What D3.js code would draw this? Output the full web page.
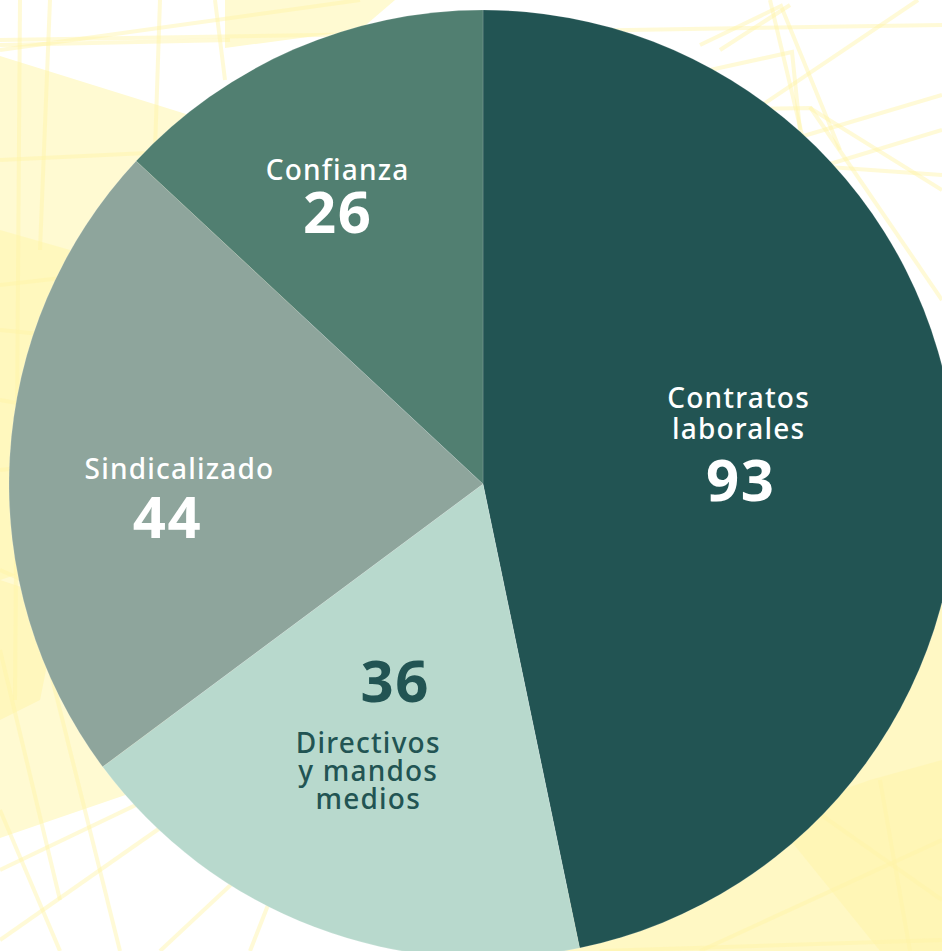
<!DOCTYPE html>
<html>
<head>
<meta charset="utf-8">
<script src="https://cdn.jsdelivr.net/npm/d3@7/dist/d3.min.js"></script>
<style>
  html, body { margin: 0; padding: 0; background: #fff; }
  svg { display: block; }
  text { font-family: "Noto Sans", sans-serif; }
</style>
</head>
<body>
<div id="chart"></div>
<script>
// data
var categories = ["Contratos laborales", "Directivos y mandos medios", "Sindicalizado", "Confianza"];
var values = [93, 36, 44, 26];
var sliceColors = ["#225453", "#b8d9cd", "#8ea59c", "#517f71"];
var textColors = ["#ffffff", "#225453", "#ffffff", "#ffffff"];
var labelLines = [["Contratos", "laborales"], ["Directivos", "y mandos", "medios"], ["Sindicalizado"], ["Confianza"]];

// layout
var width = 942, height = 951;
var cx = 483, cy = 484, radius = 474;
// number anchor: point on the mid angle at labelRadius, then nudged
var labelRadius = [259, 233, 316, 274];
var labelNudge = [[0, 44], [-5, 0], [0, 71], [-36, 0]];
// name lines relative to the number anchor
var nameDx = [-2, -27, 12, 0];
var nameDy = [[-93, -62], [51, 79, 107], [-59], [-53]];

// background decoration (not data)
var bgShapes = [
    {pts: [[0,56],[186,114],[330,170],[250,520],[140,790],[0,838]], fill: "#fffad2"},
    {pts: [[0,230],[70,250],[60,560],[0,580]], fill: "#fff6b0", op: 0.6},
    {pts: [[225,0],[395,0],[360,30],[225,48]], fill: "#fffad2"},
    {pts: [[470,951],[942,951],[942,560],[760,760]], fill: "#fff8c4"},
    {pts: [[770,815],[870,780],[942,760],[942,951],[880,951]], fill: "#fff5b0", op: 0.7},
    {pts: [[0,580],[60,600],[40,700],[0,720]], fill: "#fff4a8", op: 0.5}
];
var bgLines = [
    [[0,50],[360,0]], [[0,45],[230,40]], [[0,40],[942,25]],
    [[50,0],[40,250]], [[20,0],[15,700]], [[160,0],[150,300]],
    [[215,0],[225,80]], [[770,0],[860,380]], [[720,50],[790,5]],
    [[700,45],[781,6],[840,150]], [[710,70],[792,52],[800,130]],
    [[700,110],[810,108],[942,190]], [[810,107],[942,300]],
    [[740,120],[918,0]], [[790,140],[942,95]], [[800,165],[942,175]],
    [[810,170],[942,130]], [[0,570],[300,700]], [[0,650],[60,900]],
    [[0,870],[230,760]], [[0,940],[200,800]], [[60,951],[0,810]],
    [[160,951],[300,820]], [[250,951],[270,900]], [[40,630],[120,951]],
    [[880,780],[910,951]], [[800,800],[942,900]], [[700,951],[942,840]],
    [[600,951],[942,940]], [[0,400],[110,420]], [[0,470],[90,460]],
    [[0,330],[100,340]], [[0,160],[210,150]], [[0,285],[220,260]]
];

var svg = d3.select("#chart").append("svg")
    .attr("width", width).attr("height", height)
    .attr("viewBox", "0 0 " + width + " " + height);

// decoration
var bg = svg.append("g").attr("class", "bg");
bg.selectAll("polygon").data(bgShapes).enter().append("polygon")
    .attr("points", function(d) { return d.pts.map(function(p) { return p.join(","); }).join(" "); })
    .attr("fill", function(d) { return d.fill; })
    .attr("opacity", function(d) { return d.op || 1; });
bg.selectAll("polyline").data(bgLines).enter().append("polyline")
    .attr("points", function(d) { return d.map(function(p) { return p.join(","); }).join(" "); })
    .attr("fill", "none")
    .attr("stroke", "#fff3a6")
    .attr("stroke-opacity", 0.45)
    .attr("stroke-width", 4);

var data = categories.map(function(c, i) { return {name: c, value: values[i], i: i}; });

var pie = d3.pie().sort(null).value(function(d) { return d.value; });
var arc = d3.arc().innerRadius(0).outerRadius(radius);
var arcs = pie(data);

var g = svg.append("g").attr("transform", "translate(" + cx + "," + cy + ")");

g.selectAll(".slice").data(arcs).enter().append("path")
    .attr("class", "slice")
    .attr("d", arc)
    .attr("fill", function(d) { return sliceColors[d.data.i]; })
    .attr("stroke", "rgba(255,255,255,0.25)")
    .attr("stroke-width", 0.6);

// labels: one text per slice, lines as tspans
arcs.forEach(function(a) {
    var i = a.data.i;
    var la = d3.arc().innerRadius(labelRadius[i]).outerRadius(labelRadius[i]);
    var c = la.centroid(a);
    var x = c[0] + labelNudge[i][0], y = c[1] + labelNudge[i][1];
    var txt = g.append("text").attr("class", "label")
        .attr("fill", textColors[i]).attr("text-anchor", "middle");
    labelLines[i].forEach(function(t, k) {
        txt.append("tspan")
            .attr("x", x + nameDx[i]).attr("y", y + nameDy[i][k])
            .attr("font-size", 28).attr("font-weight", 500)
            .attr("letter-spacing", 1.2)
            .text(t);
    });
    txt.append("tspan")
        .attr("x", x).attr("y", y)
        .attr("font-size", 58).attr("font-weight", 700)
        .attr("letter-spacing", 1.5)
        .text(values[i]);
});
</script>
</body>
</html>
